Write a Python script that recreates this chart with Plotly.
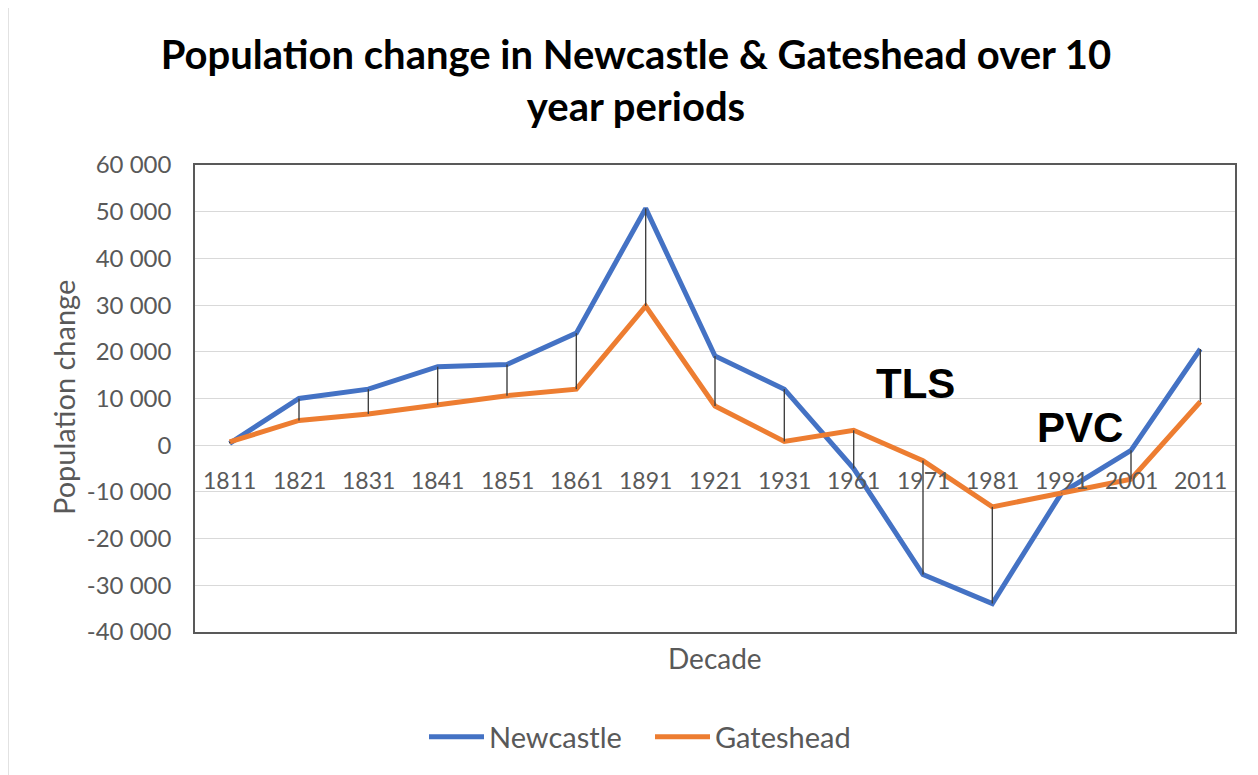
import plotly.graph_objects as go

decades = ["1811", "1821", "1831", "1841", "1851", "1861", "1891", "1921",
           "1931", "1961", "1971", "1981", "1991", "2001", "2011"]
newcastle = [400, 10000, 12000, 16800, 17300, 24000, 50700, 19100,
             12000, -5000, -27700, -33900, -10200, -1100, 20600]
gateshead = [700, 5300, 6700, 8600, 10600, 12000, 29800, 8400,
             800, 3200, -3300, -13200, -10300, -7300, 9300]
y_tickvals = [60000, 50000, 40000, 30000, 20000, 10000, 0,
              -10000, -20000, -30000, -40000]
y_ticktext = ["60 000", "50 000", "40 000", "30 000", "20 000", "10 000", "0",
              "-10 000", "-20 000", "-30 000", "-40 000"]

FONT = "Lato"
GREY = "#595959"

# figure is drawn 8px in from the page corner (body margin)
W, H = 1250, 767
L, R, T, B = 187, 23, 157, 143
PW, PH = W - L - R, H - T - B


def px(sx):  # screen x -> paper
    return (sx - 8 - L) / PW


def py(sy):  # screen y -> paper
    return (H - B - (sy - 8)) / PH


idx = list(range(len(decades)))

fig = go.Figure()
fig.add_trace(go.Scatter(x=idx, y=newcastle, mode="lines", name="Newcastle",
                         line=dict(color="#4472C4", width=5)))
fig.add_trace(go.Scatter(x=idx, y=gateshead, mode="lines", name="Gateshead",
                         line=dict(color="#ED7D31", width=5)))

# high-low drop lines between the two series
hx, hy = [], []
for i, n, g in zip(idx, newcastle, gateshead):
    hx += [i, i, None]
    hy += [n, g, None]
fig.add_trace(go.Scatter(x=hx, y=hy, mode="lines", showlegend=False,
                         line=dict(color="#404040", width=1.4), hoverinfo="skip"))

annotations = []
for i, d in zip(idx, decades):
    annotations.append(dict(x=i, y=0, xref="x", yref="y", text=d, showarrow=False,
                            yanchor="top", yshift=-19,
                            font=dict(family=FONT, size=23, color=GREY)))
annotations += [
    dict(x=px(715), y=py(658), xref="paper", yref="paper", text="Decade", showarrow=False,
         xanchor="center", yanchor="middle", font=dict(family=FONT, size=28, color=GREY)),
    dict(x=px(63), y=py(398), xref="paper", yref="paper", text="Population change",
         showarrow=False, textangle=-90, xanchor="center", yanchor="middle",
         font=dict(family=FONT, size=29, color=GREY)),
    dict(x=px(915), y=py(383), xref="paper", yref="paper", text="<b>TLS</b>", showarrow=False,
         xanchor="center", yanchor="middle",
         font=dict(family="Liberation Sans", size=42, color="black")),
    dict(x=px(1080), y=py(427), xref="paper", yref="paper", text="<b>PVC</b>", showarrow=False,
         xanchor="center", yanchor="middle",
         font=dict(family="Liberation Sans", size=42, color="black")),
]

fig.update_layout(
    width=W, height=H,
    margin=dict(l=L, r=R, t=T, b=B),
    paper_bgcolor="white", plot_bgcolor="white",
    title=dict(text="<b>Population change in Newcastle & Gateshead over 10<br>year periods</b>",
               x=(636 - 8) / W, xref="container", xanchor="center",
               y=1 - (69 - 8) / H, yref="container", yanchor="middle",
               font=dict(family=FONT, size=40, color="black")),
    xaxis=dict(range=[-0.5, len(decades) - 0.5], showticklabels=False, showgrid=False,
               ticks="", showline=True, mirror=True, linecolor=GREY, linewidth=1.5,
               zeroline=False),
    yaxis=dict(range=[-40000, 60000], tickvals=y_tickvals, ticktext=y_ticktext,
               showgrid=True, gridcolor="#D9D9D9", gridwidth=1, zeroline=False,
               showline=True, mirror=True, linecolor=GREY, linewidth=1.5,
               ticks="", ticklabelstandoff=17,
               tickfont=dict(family=FONT, size=24, color=GREY)),
    legend=dict(orientation="h", x=px(650), xanchor="center", y=py(737), yanchor="middle",
                font=dict(family=FONT, size=29, color=GREY), entrywidth=156,
                itemwidth=55),
    annotations=annotations,
    showlegend=True,
)

fig.add_shape(type="rect", xref="paper", yref="paper",
              x0=px(8), x1=px(1275), y0=py(790), y1=py(7),
              line=dict(color="#D9D9D9", width=1.5), layer="below")

fig.write_html("out.html")
